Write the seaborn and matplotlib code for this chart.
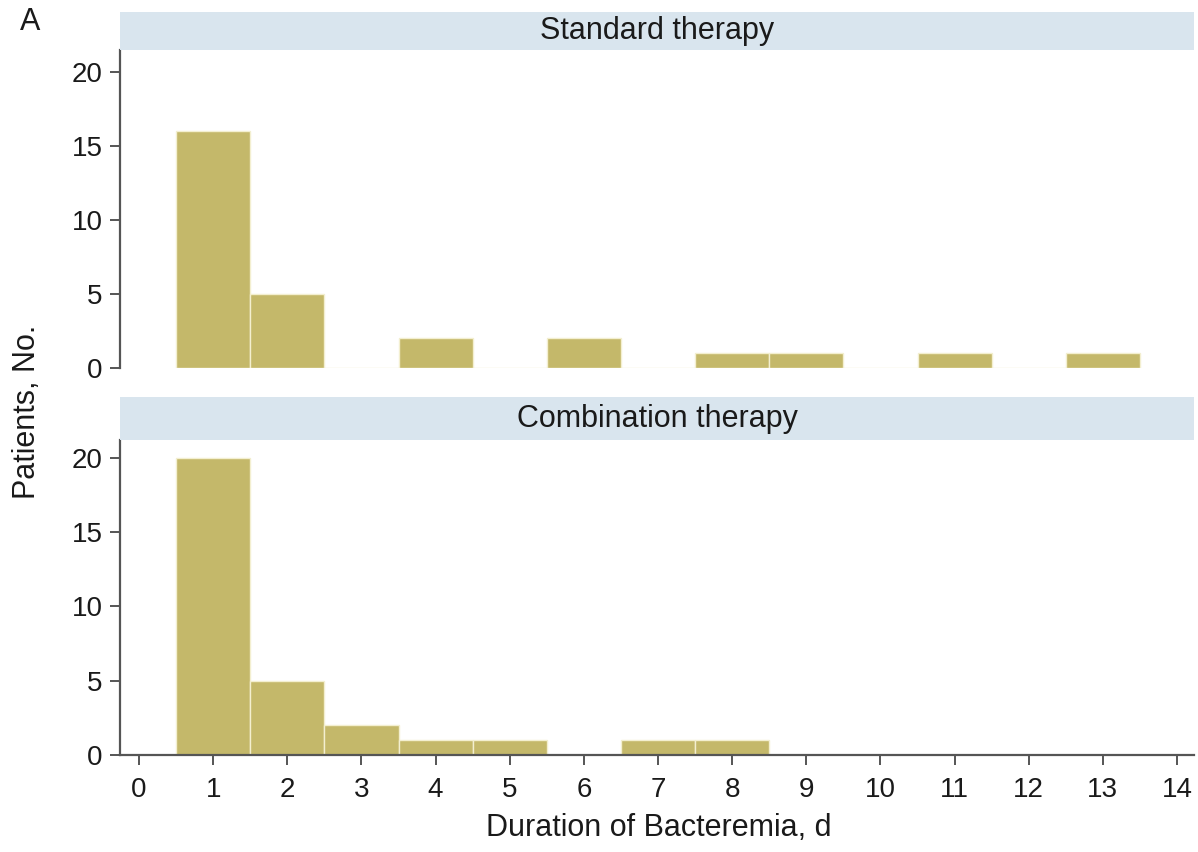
import matplotlib
matplotlib.use("Agg")
import matplotlib.pyplot as plt
import seaborn as sns
import pandas as pd

# Data
std_days = [1, 2, 4, 6, 8, 9, 11, 13]
std_counts = [16, 5, 2, 2, 1, 1, 1, 1]
comb_days = [1, 2, 3, 4, 5, 7, 8]
comb_counts = [20, 5, 2, 1, 1, 1, 1]
panel_titles = ["Standard therapy", "Combination therapy"]
x_ticks = list(range(0, 15))
y_ticks = [0, 5, 10, 15, 20]

sns.set_theme(style="white")
plt.rcParams['font.family'] = ['Liberation Sans', 'DejaVu Sans']

BAR = "#C4B86A"
STRIP = "#D9E5EE"
SPINE = "#555555"
TXT = "#1a1a1a"

W, H = 1198, 852
fig = plt.figure(figsize=(W / 100, H / 100), dpi=100)

def fx(px):
    return px / W

def fy(py):
    return 1 - py / H

left_px, right_px = 120, 1194
x0_px, x14_px = 139, 1177
unit = (x14_px - x0_px) / 14
xlim = ((left_px - x0_px) / unit, 14 + (right_px - x14_px) / unit)

panels = [
    dict(days=std_days, counts=std_counts, title=panel_titles[0],
         strip=(12, 50), ax=(50, 368), ylim_top=21.5, show_x=False),
    dict(days=comb_days, counts=comb_counts, title=panel_titles[1],
         strip=(397, 440), ax=(440, 755), ylim_top=21.2, show_x=True),
]

for p in panels:
    ax_top, ax_bot = p["ax"]
    ax = fig.add_axes([fx(left_px), fy(ax_bot), fx(right_px - left_px), (ax_bot - ax_top) / H])
    df = pd.DataFrame({"day": p["days"], "n": p["counts"]})
    sns.histplot(data=df, x="day", weights="n", discrete=True, ax=ax,
                 color=BAR, alpha=1.0, edgecolor="#F3EFD0", linewidth=1.0)
    ax.set_xlim(*xlim)
    ax.set_ylim(0, p["ylim_top"])
    ax.set_yticks(y_ticks)
    ax.set_ylabel("")
    ax.set_xlabel("")
    for s in ["top", "right"]:
        ax.spines[s].set_visible(False)
    ax.spines["left"].set_color(SPINE)
    ax.spines["left"].set_linewidth(1.6)
    ax.spines["left"].set_bounds(0, p["ylim_top"])
    ax.tick_params(axis="y", left=True, length=7.5, width=1.4, color=SPINE,
                   labelsize=20, labelcolor=TXT, pad=5)
    if p["show_x"]:
        ax.spines["bottom"].set_color(SPINE)
        ax.spines["bottom"].set_linewidth(1.6)
        ax.set_xticks(x_ticks)
        ax.tick_params(axis="x", bottom=True, length=7, width=1.4, color=SPINE,
                       labelsize=20, labelcolor=TXT, pad=9)
    else:
        ax.spines["bottom"].set_visible(False)
        ax.set_xticks([])
    ax.patch.set_alpha(0)

    s_top, s_bot = p["strip"]
    sax = fig.add_axes([fx(left_px), fy(s_bot), fx(right_px - left_px), (s_bot - s_top) / H])
    sax.set_facecolor(STRIP)
    for s in sax.spines.values():
        s.set_visible(False)
    sax.set_xticks([])
    sax.set_yticks([])
    sax.text(0.5, 0.5, p["title"], ha="center", va="center", fontsize=22,
             color=TXT, transform=sax.transAxes)

fig.text(fx(30), fy(22), "A", fontsize=22, color=TXT, ha="center", va="center")
fig.text(fx(27), fy(412), "Patients, No.", fontsize=22, color=TXT, rotation=90,
         ha="center", va="center")
fig.text(fx(659), fy(828), "Duration of Bacteremia, d", fontsize=22,
         color=TXT, ha="center", va="center")

fig.savefig("out.png", dpi=100, facecolor="white")
